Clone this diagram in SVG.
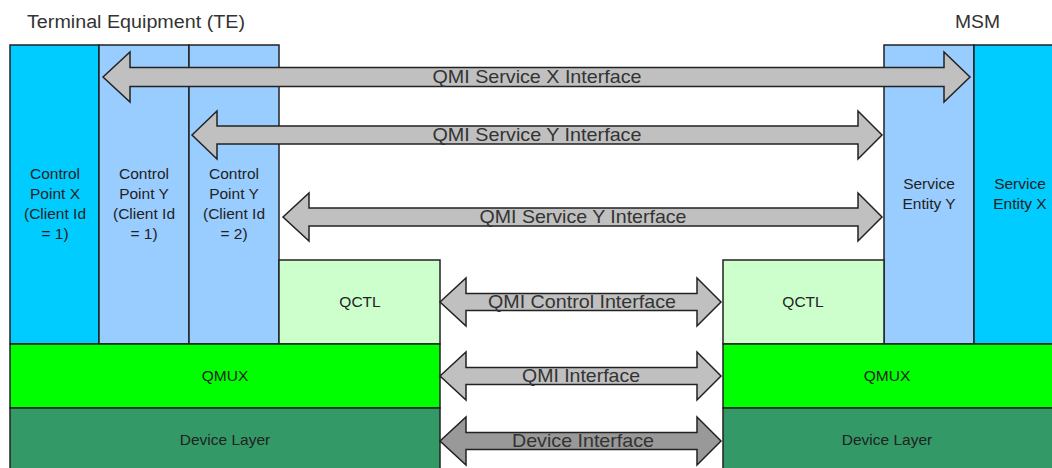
<svg xmlns="http://www.w3.org/2000/svg" width="1052" height="468" viewBox="0 0 1052 468">
<style>
.box{stroke:#222;stroke-width:1.5}
.cx{fill:#00CCFF}.cy{fill:#99CCFF}.qc{fill:#CCFFCC}.qm{fill:#00FF00}.dl{fill:#339966}
.t{font-family:"Liberation Sans",Arial,sans-serif;font-size:15.5px;fill:#222;text-anchor:middle}
.lab{font-family:"Liberation Sans",Arial,sans-serif;font-size:18.5px;fill:#333;text-anchor:middle}
.title{font-family:"Liberation Sans",Arial,sans-serif;font-size:18px;fill:#333}
.arr{fill:#C0C0C0;stroke:#222;stroke-width:1.5;stroke-linejoin:miter}
.arrd{fill:#999999;stroke:#222;stroke-width:1.5}
</style>
<rect width="1052" height="468" fill="#fff"/>
<text class="title" x="27" y="28" textLength="218" lengthAdjust="spacingAndGlyphs">Terminal Equipment (TE)</text>
<text class="title" x="955" y="28" textLength="45" lengthAdjust="spacingAndGlyphs">MSM</text>
<g id="cpx"><rect class="box cx" x="10" y="45" width="89" height="299"/>
<text class="t" x="55" y="179">Control</text><text class="t" x="55" y="199">Point X</text><text class="t" x="55" y="219">(Client Id</text><text class="t" x="55" y="239">= 1)</text></g>
<g id="cpy1"><rect class="box cy" x="99" y="45" width="90" height="299"/>
<text class="t" x="144" y="179">Control</text><text class="t" x="144" y="199">Point Y</text><text class="t" x="144" y="219">(Client Id</text><text class="t" x="144" y="239">= 1)</text></g>
<g id="cpy2"><rect class="box cy" x="189" y="45" width="90" height="299"/>
<text class="t" x="234" y="179">Control</text><text class="t" x="234" y="199">Point Y</text><text class="t" x="234" y="219">(Client Id</text><text class="t" x="234" y="239">= 2)</text></g>
<g id="qctl-te"><rect class="box qc" x="279" y="260" width="161" height="84"/>
<text class="t" x="360" y="307">QCTL</text></g>
<g id="qmux-te"><rect class="box qm" x="10" y="344" width="430" height="64"/>
<text class="t" x="225" y="381">QMUX</text></g>
<g id="dev-te"><rect class="box dl" x="10" y="408" width="430" height="70"/>
<text class="t" x="225" y="445">Device Layer</text></g>
<g id="sey"><rect class="box cy" x="884" y="45" width="90" height="299"/>
<text class="t" x="929" y="189">Service</text><text class="t" x="929" y="209">Entity Y</text></g>
<g id="sex"><rect class="box cx" x="974" y="45" width="88" height="299"/>
<text class="t" x="1020" y="189">Service</text><text class="t" x="1020" y="209">Entity X</text></g>
<g id="qctl-msm"><rect class="box qc" x="723" y="260" width="161" height="84"/>
<text class="t" x="803" y="307">QCTL</text></g>
<g id="qmux-msm"><rect class="box qm" x="723" y="344" width="340" height="64"/>
<text class="t" x="887" y="381">QMUX</text></g>
<g id="dev-msm"><rect class="box dl" x="723" y="408" width="340" height="70"/>
<text class="t" x="887" y="445">Device Layer</text></g>
<g id="connectors">
<polygon class="arr" points="103,77 130,52 130,67.5 944,67.5 944,52 970,77 944,102 944,86.5 130,86.5 130,102"/>
<text class="lab" x="537" y="83" textLength="209" lengthAdjust="spacingAndGlyphs">QMI Service X Interface</text>
<polygon class="arr" points="192,135 217,111 217,126 858,126 858,111 882,135 858,159 858,144 217,144 217,159"/>
<text class="lab" x="537" y="141" textLength="209" lengthAdjust="spacingAndGlyphs">QMI Service Y Interface</text>
<polygon class="arr" points="283,217 309,193 309,208 858,208 858,193 882,217 858,241 858,226 309,226 309,241"/>
<text class="lab" x="583" y="223" textLength="207" lengthAdjust="spacingAndGlyphs">QMI Service Y Interface</text>
<polygon class="arr" points="440,302 466,278 466,293.5 697,293.5 697,278 721,302 697,326 697,310.5 466,310.5 466,326"/>
<text class="lab" x="582" y="308" textLength="188" lengthAdjust="spacingAndGlyphs">QMI Control Interface</text>
<polygon class="arr" points="440,376 466,352 466,367.5 697,367.5 697,352 721,376 697,400 697,384.5 466,384.5 466,400"/>
<text class="lab" x="581" y="382" textLength="118" lengthAdjust="spacingAndGlyphs">QMI Interface</text>
<polygon class="arrd" points="440,441 466,417 466,432.5 697,432.5 697,417 721,441 697,465 697,449.5 466,449.5 466,465"/>
<text class="lab" x="583" y="447" textLength="142" lengthAdjust="spacingAndGlyphs">Device Interface</text>
</g>
</svg>
